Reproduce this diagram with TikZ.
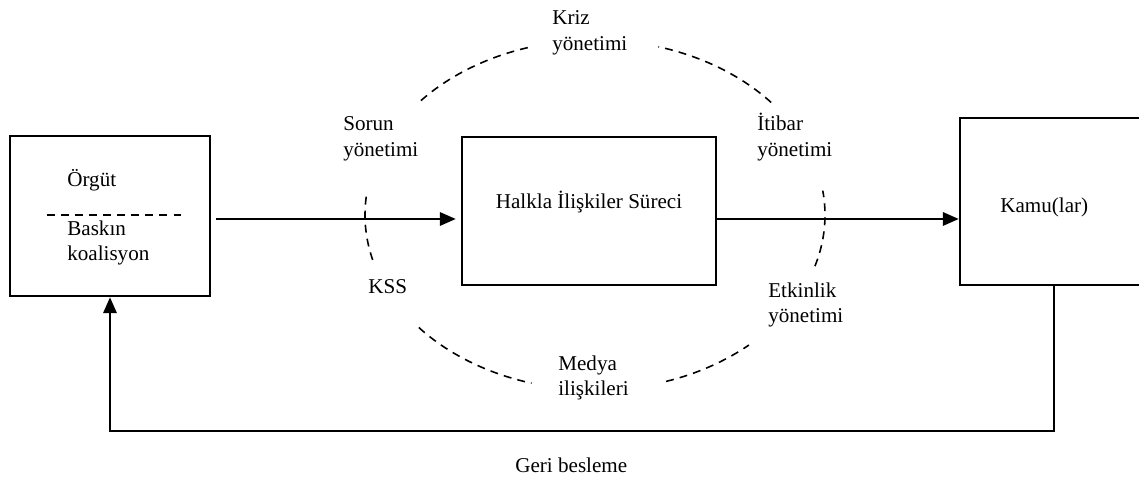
\documentclass[tikz,border=0pt]{standalone}
\usepackage{fontspec}
\setmainfont{Liberation Serif}
\usetikzlibrary{arrows.meta}

\begin{document}
\begin{tikzpicture}[
    font=\fontsize{12}{14.5}\selectfont,
    kutu/.style={draw,line width=1.4pt,inner sep=0pt},
    ok/.style={line width=1.4pt,-{Triangle[length=9pt,width=7.5pt]}},
    kesik/.style={line width=0.9pt,dash pattern=on 4.5pt off 3.5pt},
    etiket/.style={anchor=west,align=left,inner sep=0pt}]

    \clip (0,0) rectangle (22.78,9.54);

    \node [kutu,minimum width=4cm,minimum height=3.2cm] (orgut) at (2.2,5.22) {};
    \node [kutu,minimum width=5.08cm,minimum height=2.96cm] (surec) at (11.78,5.32) {};
    \node [kutu,minimum width=4.5cm,minimum height=3.34cm] (kamu) at (21.45,5.51) {};

    \node [etiket] (orgutyazi) at (1.34,5.94) {Örgüt};
    \node [etiket] (baskin) at (1.34,4.68) {Baskın\\koalisyon};
    \draw [kesik] (0.94,5.24) -- (3.62,5.24);

    \node [anchor=center] (surecyazi) at (11.78,5.5) {Halkla İlişkiler Süreci};
    \node [etiket] (kamuyazi) at (20.0,5.4) {Kamu(lar)};

    \coordinate (hat) at (0,5.16);
    \coordinate (dip) at (21.08,0.92);

    \draw [ok,shorten <=0.1cm,shorten >=0.1cm] (orgut.east |- hat) -- (surec.west |- hat);
    \draw [ok] (surec.east |- hat) -- (kamu.west |- hat);
    \draw [ok] (kamu.south -| dip) -- (dip) -- (dip -| orgut.south) -- (orgut.south);

    % yonetim halkasi
    \coordinate (merkez) at (11.9,5.24);
    \foreach \a/\b in {174/195,107/140,40/74,-17/8,220/254,288/312}
      \draw [kesik] (merkez) ++(\a:4.6 and 3.5)
        arc [start angle=\a,end angle=\b,x radius=4.6,y radius=3.5];

    \node [etiket] (kriz) at (11.04,8.88) {Kriz\\yönetimi};
    \node [etiket] (sorun) at (6.86,6.76) {Sorun\\yönetimi};
    \node [etiket] (itibar) at (15.14,6.8) {İtibar\\yönetimi};
    \node [etiket] (kss) at (7.36,3.8) {KSS};
    \node [etiket] (etkinlik) at (15.36,3.44) {Etkinlik\\yönetimi};
    \node [etiket] (medya) at (11.16,1.98) {Medya\\ilişkileri};
    \node [etiket] (geri) at (10.3,0.24) {Geri besleme};
\end{tikzpicture}
\end{document}
